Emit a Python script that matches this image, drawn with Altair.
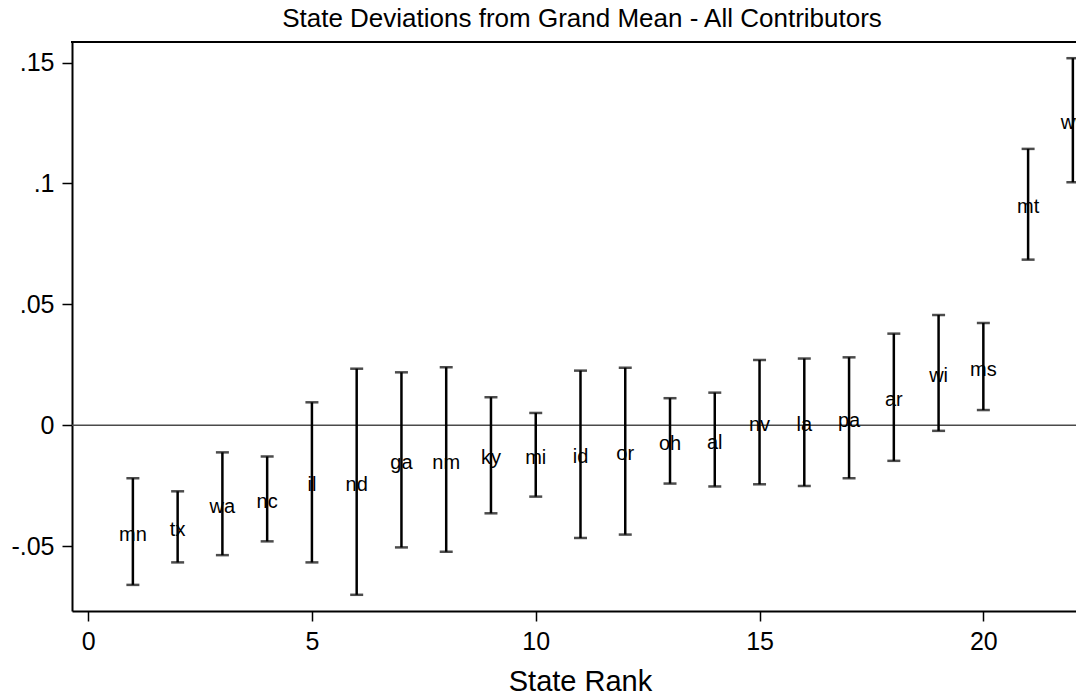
import altair as alt
import pandas as pd

# ---- data ----
STATES = ["mn", "tx", "wa", "nc", "il", "nd", "ga", "nm", "ky", "mi", "id",
          "or", "oh", "al", "nv", "la", "pa", "ar", "wi", "ms", "mt", "wv"]
RANK = [1, 2, 3, 4, 5, 6, 7, 8, 9, 10, 11, 12, 13, 14, 15, 16, 17, 18, 19, 20, 21, 22]
ESTIMATE = [-0.0440, -0.0420, -0.0325, -0.0305, -0.0236, -0.0234, -0.0143, -0.0142,
            -0.0124, -0.0122, -0.0120, -0.0107, -0.0065, -0.0059, 0.0013, 0.0012,
            0.0031, 0.0116, 0.0216, 0.0243, 0.0914, 0.1262]
UPPER = [-0.0219, -0.0273, -0.0112, -0.0129, 0.0095, 0.0234, 0.0219, 0.0240,
         0.0116, 0.0051, 0.0226, 0.0238, 0.0112, 0.0135, 0.0270, 0.0276,
         0.0281, 0.0379, 0.0456, 0.0423, 0.1143, 0.1518]
LOWER = [-0.0660, -0.0567, -0.0537, -0.0480, -0.0567, -0.0701, -0.0505, -0.0523,
         -0.0364, -0.0295, -0.0466, -0.0452, -0.0241, -0.0253, -0.0244, -0.0251,
         -0.0219, -0.0147, -0.0023, 0.0063, 0.0685, 0.1005]
X_TICKS = [0, 5, 10, 15, 20]
Y_TICKS = [-0.05, 0, 0.05, 0.1, 0.15]
Y_TICK_LABELS = ["-.05", "0", ".05", ".1", ".15"]
REF_LINE = [0]

TITLE = "State Deviations from Grand Mean - All Contributors"
X_TITLE = "State Rank"
FONT = "Liberation Sans"

W, H = 1004, 569

df = pd.DataFrame({"rank": RANK, "state": STATES, "est": ESTIMATE,
                   "lo": LOWER, "hi": UPPER})

y_label_expr = " : ".join(
    f"round(datum.value*100) == {round(v*100)} ? '{lab}'" for v, lab in zip(Y_TICKS, Y_TICK_LABELS)
) + " : ''"

xs = alt.Scale(domain=[-0.36, 22.07], nice=False, zero=False)
ys = alt.Scale(domain=[-0.0768, 0.1585], nice=False, zero=False)

X_AX = alt.Axis(values=X_TICKS, title=X_TITLE, grid=False,
                domain=True, domainColor="black", domainWidth=2,
                tickSize=10, tickWidth=1.5, tickColor="black",
                labelFont=FONT, labelFontSize=25, labelColor="black", labelPadding=8,
                titleFont=FONT, titleFontSize=29, titleFontWeight="normal",
                titleColor="black", titleBaseline="alphabetic", titleAlign="center",
                titleX=508, titleY=79)
Y_AX = alt.Axis(values=Y_TICKS, labelExpr=y_label_expr, title=None, grid=False,
                domain=True, domainColor="black", domainWidth=2,
                tickSize=10, tickWidth=1.5, tickColor="black",
                labelFont=FONT, labelFontSize=25, labelColor="black", labelPadding=8)

base = alt.Chart(df)

zero = alt.Chart(pd.DataFrame({"y": REF_LINE})).mark_rule(
    color="#4a4a4a", strokeWidth=1.5
).encode(y=alt.Y("y:Q", scale=ys, axis=Y_AX))

top_frame = alt.Chart(pd.DataFrame({"y": REF_LINE})).mark_rule(
    color="black", strokeWidth=2
).encode(x=alt.value(-1), x2=alt.value(W + 20), y=alt.value(0))

bars = base.mark_rule(color="black", strokeWidth=2.5).encode(
    x=alt.X("rank:Q", scale=xs, axis=X_AX),
    y=alt.Y("lo:Q", scale=ys, axis=Y_AX),
    y2="hi:Q",
)
cap_lo = base.mark_tick(orient="horizontal", size=13, thickness=2.5, color="black").encode(
    x=alt.X("rank:Q", scale=xs, axis=X_AX),
    y=alt.Y("lo:Q", scale=ys, axis=Y_AX),
)
cap_hi = base.mark_tick(orient="horizontal", size=13, thickness=2.5, color="black").encode(
    x=alt.X("rank:Q", scale=xs, axis=X_AX),
    y=alt.Y("hi:Q", scale=ys, axis=Y_AX),
)
labels = base.mark_text(font=FONT, fontSize=20, color="black",
                        align="center", baseline="middle", dy=3).encode(
    x=alt.X("rank:Q", scale=xs, axis=X_AX),
    y=alt.Y("est:Q", scale=ys, axis=Y_AX),
    text="state:N",
)

title = alt.Chart(pd.DataFrame({"t": [TITLE]})).mark_text(
    font=FONT, fontSize=26, color="black", align="center", baseline="alphabetic"
).encode(x=alt.value(510), y=alt.value(-15), text="t:N")

chart = alt.layer(zero, top_frame, bars, cap_lo, cap_hi, labels, title).properties(
    width=W,
    height=H,
    padding={"left": 64, "top": 34, "right": 0, "bottom": 81},
    autosize=alt.AutoSizeParams(type="none"),
).configure_view(strokeWidth=0)

chart.save("out.html", embed_options={"renderer": "svg", "actions": False})
